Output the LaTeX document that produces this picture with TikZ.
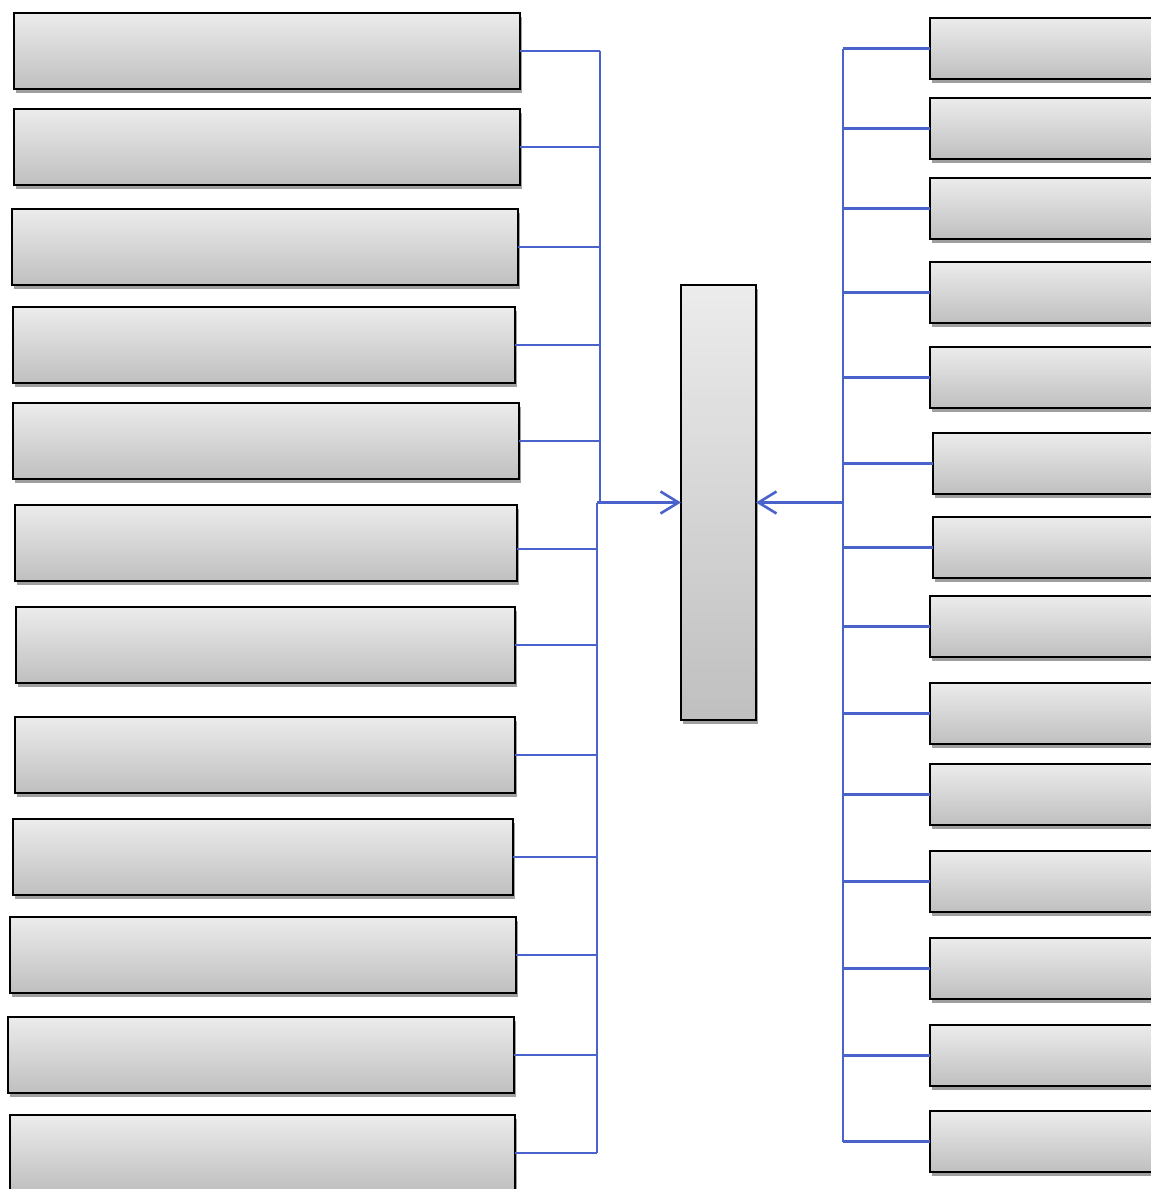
\documentclass[tikz,border=0pt]{standalone}
\usetikzlibrary{arrows.meta,shadows}
\definecolor{conn}{RGB}{74,99,204}
\begin{document}
\begin{tikzpicture}[x=1pt,y=-1pt,
  box/.style={rectangle,draw=black,line width=1.8pt,inner sep=0pt,outer sep=0pt,anchor=north west,
    top color=gray!15,bottom color=gray!50,
    drop shadow={shadow xshift=1.5pt,shadow yshift=-4pt,opacity=1,fill=gray!75}},
  link/.style={draw=conn,line width=2.6pt},
  tip/.style={-{Straight Barb[length=18pt,width=22pt,line width=2.6pt]}}]
\useasboundingbox (0,0) rectangle (1151,1189);
\clip (0,0) rectangle (1151,1189);
% left boxes: x, y, width
\foreach \i/\x/\y/\w in {1/14/13/506,2/14/109/506,3/12/209/506,4/13/307/502,5/13/403/506,6/15/505/502,
  7/16/607/499,8/15/717/500,9/13/819/500,10/10/917/506,11/8/1017/506,12/10/1115/505}
  \node[box,minimum width=\w pt,minimum height=76pt] (L\i) at (\x,\y) {};
% right boxes
\foreach \i/\x/\y in {1/930/18,2/930/98,3/930/178,4/930/262,5/930/347,6/933/433,7/933/517,
  8/930/596,9/930/683,10/930/764,11/930/851,12/930/938,13/930/1025,14/930/1111}
  \node[box,minimum width=240pt,minimum height=61pt] (R\i) at (\x,\y) {};
% centre box
\node[box,minimum width=75pt,minimum height=435pt] (C) at (681,285) {};
\coordinate (busU) at (600,0);
\coordinate (busD) at (597,0);
\coordinate (busR) at (843,0);
\coordinate (L6c) at ([yshift=-6pt]L6.east);
% left connectors
\foreach \i in {1,...,5} \draw[link] (L\i.east) -- (L\i.east -| busU);
\draw[link] (L6c) -- (L6c -| busD);
\foreach \i in {7,...,12} \draw[link] (L\i.east) -- (L\i.east -| busD);
\draw[link] (L1.east -| busU) -- (C.west -| busU);
\draw[link] (C.west -| busD) -- (L12.east -| busD);
\draw[link,tip] (C.west -| busD) -- (C.west);
% right connectors
\foreach \i in {1,...,14} \draw[link] (R\i.west) -- (R\i.west -| busR);
\draw[link] (R1.west -| busR) -- (R14.west -| busR);
\draw[link,tip] (C.east -| busR) -- (C.east);
\end{tikzpicture}
\end{document}
